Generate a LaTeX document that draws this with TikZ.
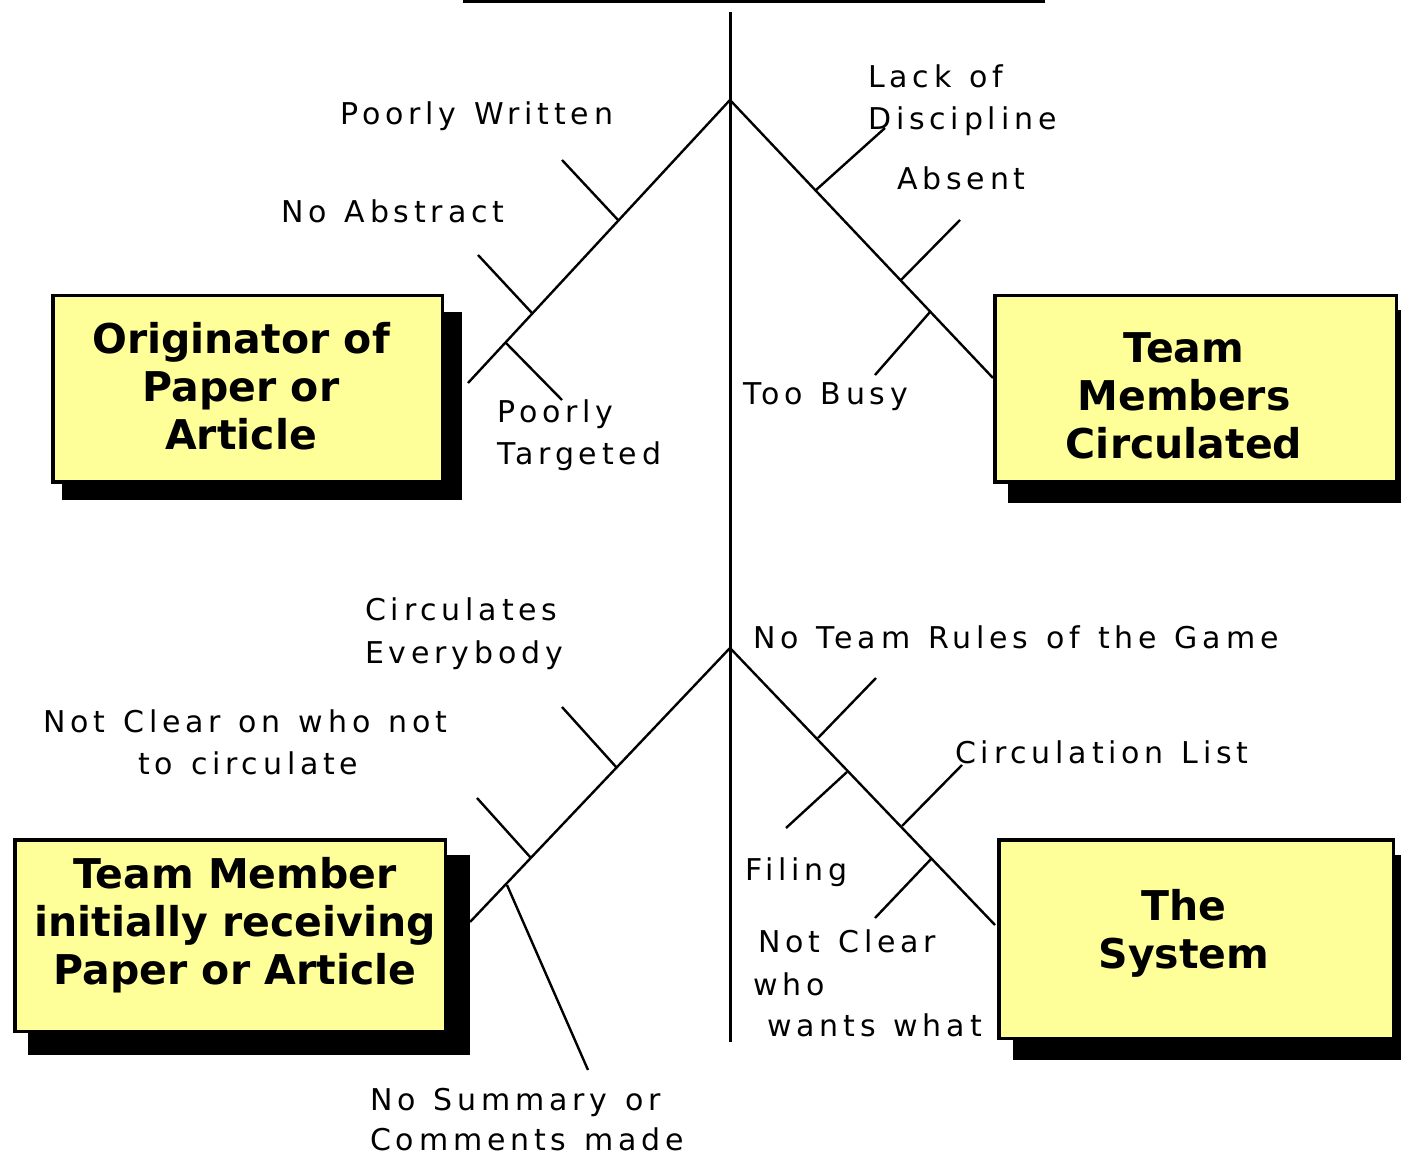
\documentclass[tikz,border=0pt]{standalone}
\usepackage{fontspec}
\setmainfont{DejaVu Sans}
\newfontfamily\lblfont[LetterSpace=16,WordSpace=1.25]{DejaVu Sans}
\definecolor{boxyellow}{RGB}{255,255,153}
\begin{document}
\begin{tikzpicture}[x=1pt,y=-1pt,
  spine/.style={line width=3pt},
  bone/.style={line width=2.4pt},
  lbl/.style={anchor=base west, inner sep=0pt, font=\lblfont\fontsize{30}{36}\selectfont},
  causebox/.style={draw=black, line width=3.5pt, fill=boxyellow, inner sep=0pt},
  boxtext/.style={inner sep=0pt, align=center, font=\fontsize{41}{48}\selectfont\bfseries},
  shade/.style={fill=black}]
\useasboundingbox (0,0) rectangle (1401,1155);
\clip (0,0) rectangle (1401,1155);

% shadows
\fill[shade] (62,312) rectangle (462,500);
\fill[shade] (1008,310) rectangle (1415,503);
\fill[shade] (28,855) rectangle (470,1055);
\fill[shade] (1013,855) rectangle (1415,1060);

% boxes
\node[causebox, minimum width=389.5pt, minimum height=186.5pt] (b1) at (247.5,389) {};
\node[causebox, minimum width=401.5pt, minimum height=186.5pt] (b2) at (1195.5,389) {};
\node[causebox, minimum width=430.5pt, minimum height=191.5pt] (b3) at (230,935.5) {};
\node[causebox, minimum width=394.5pt, minimum height=198.5pt] (b4) at (1196,939) {};

\node[boxtext] (t1) at (241,386) {Originator of\\Paper or\\Article};
\node[boxtext] (t2) at (1184,396) {Team\\Members\\Circulated};
\node[boxtext] (t3) at (235,925) {Team Member\\initially receiving\\Paper or Article};
\node[boxtext] (t4) at (1184,933) {The\\System};

% spine
\coordinate (tbl) at (463,1.5);
\coordinate (tbr) at (1045,1.5);
\coordinate (top) at (730,12);
\coordinate (bot) at (730,1042);
\draw[line width=4pt] (tbl) -- (tbr);
\draw[spine] (top) -- (bot);

% main branches
\coordinate (A1) at (730,100);
\coordinate (A2) at (730,648);
\coordinate (L1) at (468,383);
\coordinate (R1) at (993,378);
\coordinate (L2) at (470,922);
\coordinate (R2) at (995,925);
\draw[bone] (A1) -- (L1);
\draw[bone] (A1) -- (R1);
\draw[bone] (A2) -- (L2);
\draw[bone] (A2) -- (R2);

% ribs upper left
\coordinate (pw1) at (562,160); \coordinate (pw2) at (618,220);
\coordinate (na1) at (478,255); \coordinate (na2) at (532,313);
\coordinate (pt1) at (506,343); \coordinate (pt2) at (562,400);
\draw[bone] (pw1) -- (pw2);
\draw[bone] (na1) -- (na2);
\draw[bone] (pt1) -- (pt2);
% ribs upper right
\coordinate (ld1) at (885,128); \coordinate (ld2) at (816,190);
\coordinate (ab1) at (960,220); \coordinate (ab2) at (900,281);
\coordinate (tb1) at (930,312); \coordinate (tb2) at (875,375);
\draw[bone] (ld1) -- (ld2);
\draw[bone] (ab1) -- (ab2);
\draw[bone] (tb1) -- (tb2);
% ribs lower left
\coordinate (ce1) at (562,707); \coordinate (ce2) at (617,768);
\coordinate (nc1) at (477,798); \coordinate (nc2) at (531,858);
\coordinate (ns1) at (507,885); \coordinate (ns2) at (588,1070);
\draw[bone] (ce1) -- (ce2);
\draw[bone] (nc1) -- (nc2);
\draw[bone] (ns1) -- (ns2);
% ribs lower right
\coordinate (nt1) at (876,678); \coordinate (nt2) at (818,738);
\coordinate (fi1) at (847,772); \coordinate (fi2) at (786,828);
\coordinate (cl1) at (962,765); \coordinate (cl2) at (902,826);
\coordinate (nw1) at (932,858); \coordinate (nw2) at (875,918);
\draw[bone] (nt1) -- (nt2);
\draw[bone] (fi1) -- (fi2);
\draw[bone] (cl1) -- (cl2);
\draw[bone] (nw1) -- (nw2);

% labels
\node[lbl] (l1a) at (868,88) {Lack of};
\node[lbl] (l1b) at (868,130) {Discipline};
\node[lbl] (l2) at (340,125) {Poorly Written};
\node[lbl] (l3) at (897,190) {Absent};
\node[lbl] (l4) at (281,223) {No Abstract};
\node[lbl] (l5a) at (497,423) {Poorly};
\node[lbl] (l5b) at (497,465) {Targeted};
\node[lbl] (l6) at (743,405) {Too Busy};
\node[lbl] (l7a) at (365,620) {Circulates};
\node[lbl] (l7b) at (365,663) {Everybody};
\node[lbl] (l8) at (753,648) {No Team Rules of the Game};
\node[lbl] (l9a) at (43,732) {Not Clear on who not};
\node[lbl] (l9b) at (138,774) {to circulate};
\node[lbl] (l10) at (955,763) {Circulation List};
\node[lbl] (l11) at (745,880) {Filing};
\node[lbl] (l12a) at (758,952) {Not Clear};
\node[lbl] (l12b) at (753,995) {who};
\node[lbl] (l12c) at (767,1036) {wants what};
\node[lbl] (l13a) at (370,1110) {No Summary or};
\node[lbl] (l13b) at (370,1150) {Comments made};
\end{tikzpicture}
\end{document}
